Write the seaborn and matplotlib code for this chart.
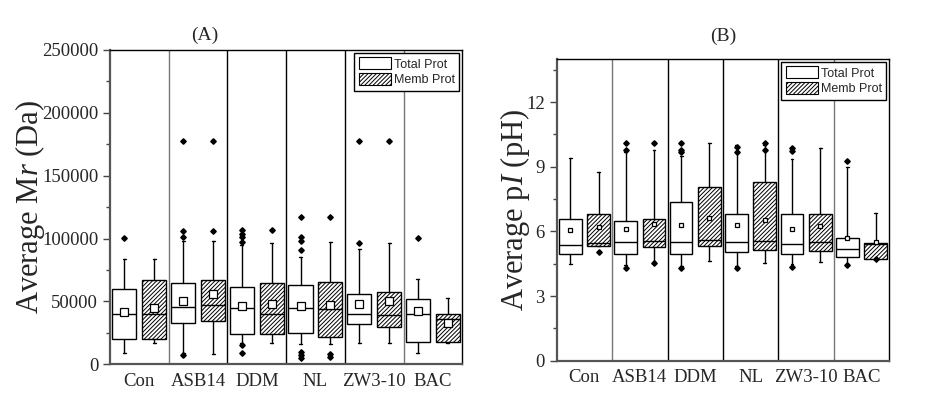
import numpy as np
import matplotlib
matplotlib.use("Agg")
import matplotlib.pyplot as plt
from matplotlib.patches import Patch
import seaborn as sns

sns.set_theme(style="ticks")
plt.rcParams['font.family'] = ['Liberation Serif', 'DejaVu Serif']
plt.rcParams['mathtext.fontset'] = 'custom'
plt.rcParams['mathtext.rm'] = 'Liberation Serif'
plt.rcParams['mathtext.it'] = 'Liberation Serif:italic'
plt.rcParams['hatch.linewidth'] = 0.7
plt.rcParams['hatch.color'] = '#222222'

categories = ["Con", "ASB14", "DDM", "NL", "ZW3-10", "BAC"]
series_names = ["Total Prot", "Memb Prot"]

# ---------------- Panel A: average Mr (Da) ----------------
A_total_q1 = [20400, 33100, 23900, 24700, 31800, 18000]
A_total_med = [39800, 45800, 44500, 44500, 39800, 39800]
A_total_q3 = [59700, 64900, 61200, 62800, 55700, 51700]
A_total_lo = [8800, 8800, 17200, 16500, 17200, 8800]
A_total_hi = [83500, 98300, 94900, 85600, 91500, 68100]
A_total_mean = [41800, 50300, 46400, 46400, 47700, 42400]
A_total_fliers = [[100500], [101000, 106000, 178000, 7500],
                  [97000, 101000, 103500, 106800, 15000, 9000],
                  [90900, 98000, 101000, 117400, 10000, 7500, 5000],
                  [96700, 178000], [100700]]

A_memb_q1 = [20400, 34700, 23900, 21500, 29900, 18000]
A_memb_med = [39800, 46900, 40300, 44000, 39200, 36300]
A_memb_q3 = [67000, 67000, 64900, 65500, 57700, 39800]
A_memb_lo = [16700, 8200, 16700, 16500, 16700, 17200]
A_memb_hi = [83500, 97800, 96200, 97500, 96700, 52500]
A_memb_mean = [44500, 55700, 47700, 46900, 50300, 33100]
A_memb_fliers = [[], [106000, 178000], [106800], [117400, 8000, 6000],
                 [178000], []]

# ---------------- Panel B: average pI (pH) ----------------
B_total_q1 = [4.96, 4.96, 4.96, 5.06, 4.94, 4.80]
B_total_med = [5.37, 5.50, 5.50, 5.50, 5.40, 5.19]
B_total_q3 = [6.57, 6.47, 7.36, 6.81, 6.81, 5.68]
B_total_lo = [4.48, 4.45, 4.40, 4.40, 4.50, 4.50]
B_total_hi = [9.40, 9.70, 9.50, 10.0, 9.35, 8.98]
B_total_mean = [6.07, 6.12, 6.30, 6.30, 6.10, 5.68]
B_total_fliers = [[], [9.8, 10.1, 4.3], [9.7, 9.8, 10.1, 4.3],
                  [9.7, 9.9, 4.3], [9.75, 9.86, 4.35], [9.27, 4.45]]

B_memb_q1 = [5.30, 5.27, 5.34, 5.14, 5.11, 4.72]
B_memb_med = [5.45, 5.57, 5.61, 5.57, 5.50, 5.40]
B_memb_q3 = [6.81, 6.57, 8.08, 8.31, 6.81, 5.45]
B_memb_lo = [5.30, 4.65, 4.64, 4.55, 4.60, 4.70]
B_memb_hi = [8.75, 9.79, 10.1, 10.0, 9.86, 6.87]
B_memb_mean = [6.19, 6.35, 6.61, 6.53, 6.27, 5.50]
B_memb_fliers = [[5.06], [10.1, 4.55], [], [10.1, 9.8], [], [4.70]]

divider_colors = ['#777777', 'black', 'black', 'black', '#777777']


def make_stats(q1, med, q3, lo, hi, mean, fliers):
    out = []
    for i in range(len(q1)):
        out.append(dict(q1=q1[i], med=med[i], q3=q3[i], whislo=lo[i],
                        whishi=hi[i], mean=mean[i],
                        fliers=np.array(fliers[i], dtype=float)))
    return out


def draw_panel(ax, total, memb, msize, fsize):
    pos = np.arange(len(categories))
    common = dict(widths=0.41, showmeans=True, patch_artist=True,
                  whiskerprops=dict(color='black', lw=1.0),
                  capprops=dict(color='black', lw=1.0),
                  medianprops=dict(color='black', lw=1.0),
                  meanprops=dict(marker='s', markerfacecolor='white',
                                 markeredgecolor='black', markersize=msize,
                                 markeredgewidth=0.9),
                  flierprops=dict(marker='D', markerfacecolor='black',
                                  markeredgecolor='black', markersize=fsize),
                  capwidths=0.05, manage_ticks=False)
    b1 = ax.bxp(total, positions=pos - 0.255, **common)
    for p in b1['boxes']:
        p.set_facecolor('white'); p.set_edgecolor('black'); p.set_linewidth(1.0)
    b2 = ax.bxp(memb, positions=pos + 0.255, **common)
    for p in b2['boxes']:
        p.set_facecolor('white'); p.set_edgecolor('black'); p.set_linewidth(1.0)
        p.set_hatch('////////')
    for i, c in enumerate(divider_colors):
        ax.axvline(i + 0.5, color=c, lw=1.0, zorder=0)
    ax.set_xlim(-0.5, len(categories) - 0.5)
    ax.set_xticks(pos)
    ax.set_xticklabels(categories, fontsize=13.5)
    ax.tick_params(axis='x', length=0, pad=6)
    ax.tick_params(axis='y', which='major', length=5, width=1, labelsize=13.5,
                   direction='out', color='#444444')
    ax.tick_params(axis='y', which='minor', length=3, width=1, direction='out',
                   color='#444444', left=True)
    for s in ['top', 'right']:
        ax.spines[s].set_color('black'); ax.spines[s].set_linewidth(1.0)
    for s in ['left', 'bottom']:
        ax.spines[s].set_color('#555555'); ax.spines[s].set_linewidth(1.6)
    handles = [Patch(facecolor='white', edgecolor='black', lw=0.8, label=series_names[0]),
               Patch(facecolor='white', edgecolor='black', lw=0.8, hatch='////////',
                     label=series_names[1])]
    leg = ax.legend(handles=handles, loc='upper right', fancybox=False,
                    edgecolor='black', framealpha=1, borderaxespad=0.25,
                    prop=dict(family='Liberation Sans', size=9),
                    handlelength=2.6, handleheight=1.1, handletextpad=0.2,
                    labelspacing=0.2, borderpad=0.35)
    leg.get_frame().set_linewidth(1.0)


fig = plt.figure(figsize=(9.29, 4.19), dpi=100)
fig.patch.set_facecolor('white')

axA = fig.add_axes([0.1184, 0.1305, 0.3792, 0.7502])
draw_panel(axA,
           make_stats(A_total_q1, A_total_med, A_total_q3, A_total_lo, A_total_hi, A_total_mean, A_total_fliers),
           make_stats(A_memb_q1, A_memb_med, A_memb_q3, A_memb_lo, A_memb_hi, A_memb_mean, A_memb_fliers),
           msize=5.5, fsize=2.8)
axA.set_ylim(0, 250000)
axA.set_yticks(np.arange(0, 250001, 50000))
axA.set_yticks(np.arange(25000, 250000, 50000), minor=True)
axA.set_yticklabels([str(v) for v in range(0, 250001, 50000)])
axA.set_ylabel(r'Average M$\mathit{r}$ (Da)', fontsize=22)
axA.yaxis.set_label_coords(-0.227, 0.5)
axA.text(0.27, 1.02, '(A)', transform=axA.transAxes, ha='center', va='bottom', fontsize=14)

axB = fig.add_axes([0.5992, 0.1391, 0.3581, 0.7201])
draw_panel(axB,
           make_stats(B_total_q1, B_total_med, B_total_q3, B_total_lo, B_total_hi, B_total_mean, B_total_fliers),
           make_stats(B_memb_q1, B_memb_med, B_memb_q3, B_memb_lo, B_memb_hi, B_memb_mean, B_memb_fliers),
           msize=3.5, fsize=2.8)
axB.set_ylim(0, 14)
axB.set_yticks([0, 3, 6, 9, 12])
axB.set_yticks([1.5, 4.5, 7.5, 10.5, 13.5], minor=True)
axB.set_ylabel(r'Average p$\mathit{I}$ (pH)', fontsize=22, va='center')
axB.yaxis.set_label_coords(-0.125, 0.5)
axA.yaxis.label.set_va('center')
axB.text(0.5, 1.045, '(B)', transform=axB.transAxes, ha='center', va='bottom', fontsize=14)

fig.savefig('out.png', dpi=100, facecolor='white')
